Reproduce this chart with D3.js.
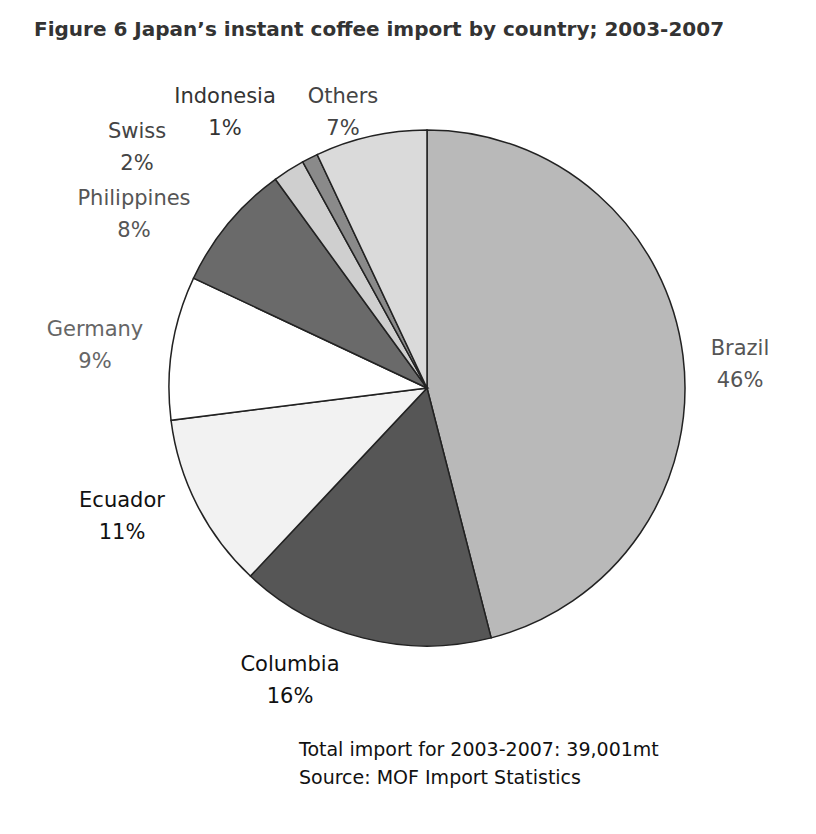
<!DOCTYPE html>
<html><head><meta charset="utf-8">
<script src="https://cdn.jsdelivr.net/npm/d3@7"></script>
<style>body{margin:0;background:#fff}svg{display:block}</style>
</head><body>
<svg id="chart" width="816" height="834"></svg>
<script>
// slices clockwise from 12 o'clock
const countries = ["Brazil", "Columbia", "Ecuador", "Germany", "Philippines", "Swiss", "Indonesia", "Others"];
const shares = [46, 16, 11, 9, 8, 2, 1, 7];
const fills = ["#b9b9b9", "#565656", "#f2f2f2", "#ffffff", "#6a6a6a", "#cfcfcf", "#8a8a8a", "#dadada"];
// label anchor positions [x, y] for each label block
const labelPos = [[740, 355], [290, 671], [122, 507], [95, 336], [134, 205], [137, 138], [225, 103], [343, 103]];
const labelColor = ["#555", "#111", "#111", "#666", "#555", "#444", "#333", "#444"];

const svg = d3.select("#chart");

svg.append("text").attr("x", 34).attr("y", 36)
  .attr("font-family", "DejaVu Sans").attr("font-weight", "bold").attr("font-size", 20)
  .attr("fill", "#333")
  .text("Figure 6 Japan\u2019s instant coffee import by country; 2003-2007");

const cx = 427, cy = 388, r = 258;
const pie = d3.pie().sort(null).value(d => d)(shares);
const arc = d3.arc().innerRadius(0).outerRadius(r);

const g = svg.append("g").attr("transform", `translate(${cx},${cy})`);
g.selectAll("path").data(pie).join("path")
  .attr("d", arc)
  .attr("fill", (d, i) => fills[i])
  .attr("stroke", "#222").attr("stroke-width", 1.5);

countries.forEach((c, i) => {
  const t = svg.append("text")
    .attr("x", labelPos[i][0]).attr("y", labelPos[i][1])
    .attr("text-anchor", "middle")
    .attr("font-family", "DejaVu Sans").attr("font-size", 21)
    .attr("fill", labelColor[i]);
  t.append("tspan").attr("x", labelPos[i][0]).text(c);
  t.append("tspan").attr("x", labelPos[i][0]).attr("dy", 32).text(shares[i] + "%");
});

const note = svg.append("text").attr("font-family", "DejaVu Sans").attr("font-size", 19).attr("fill", "#111");
note.append("tspan").attr("x", 299).attr("y", 756).text("Total import for 2003-2007: 39,001mt");
note.append("tspan").attr("x", 299).attr("y", 784).text("Source: MOF Import Statistics");
</script>
</body></html>
